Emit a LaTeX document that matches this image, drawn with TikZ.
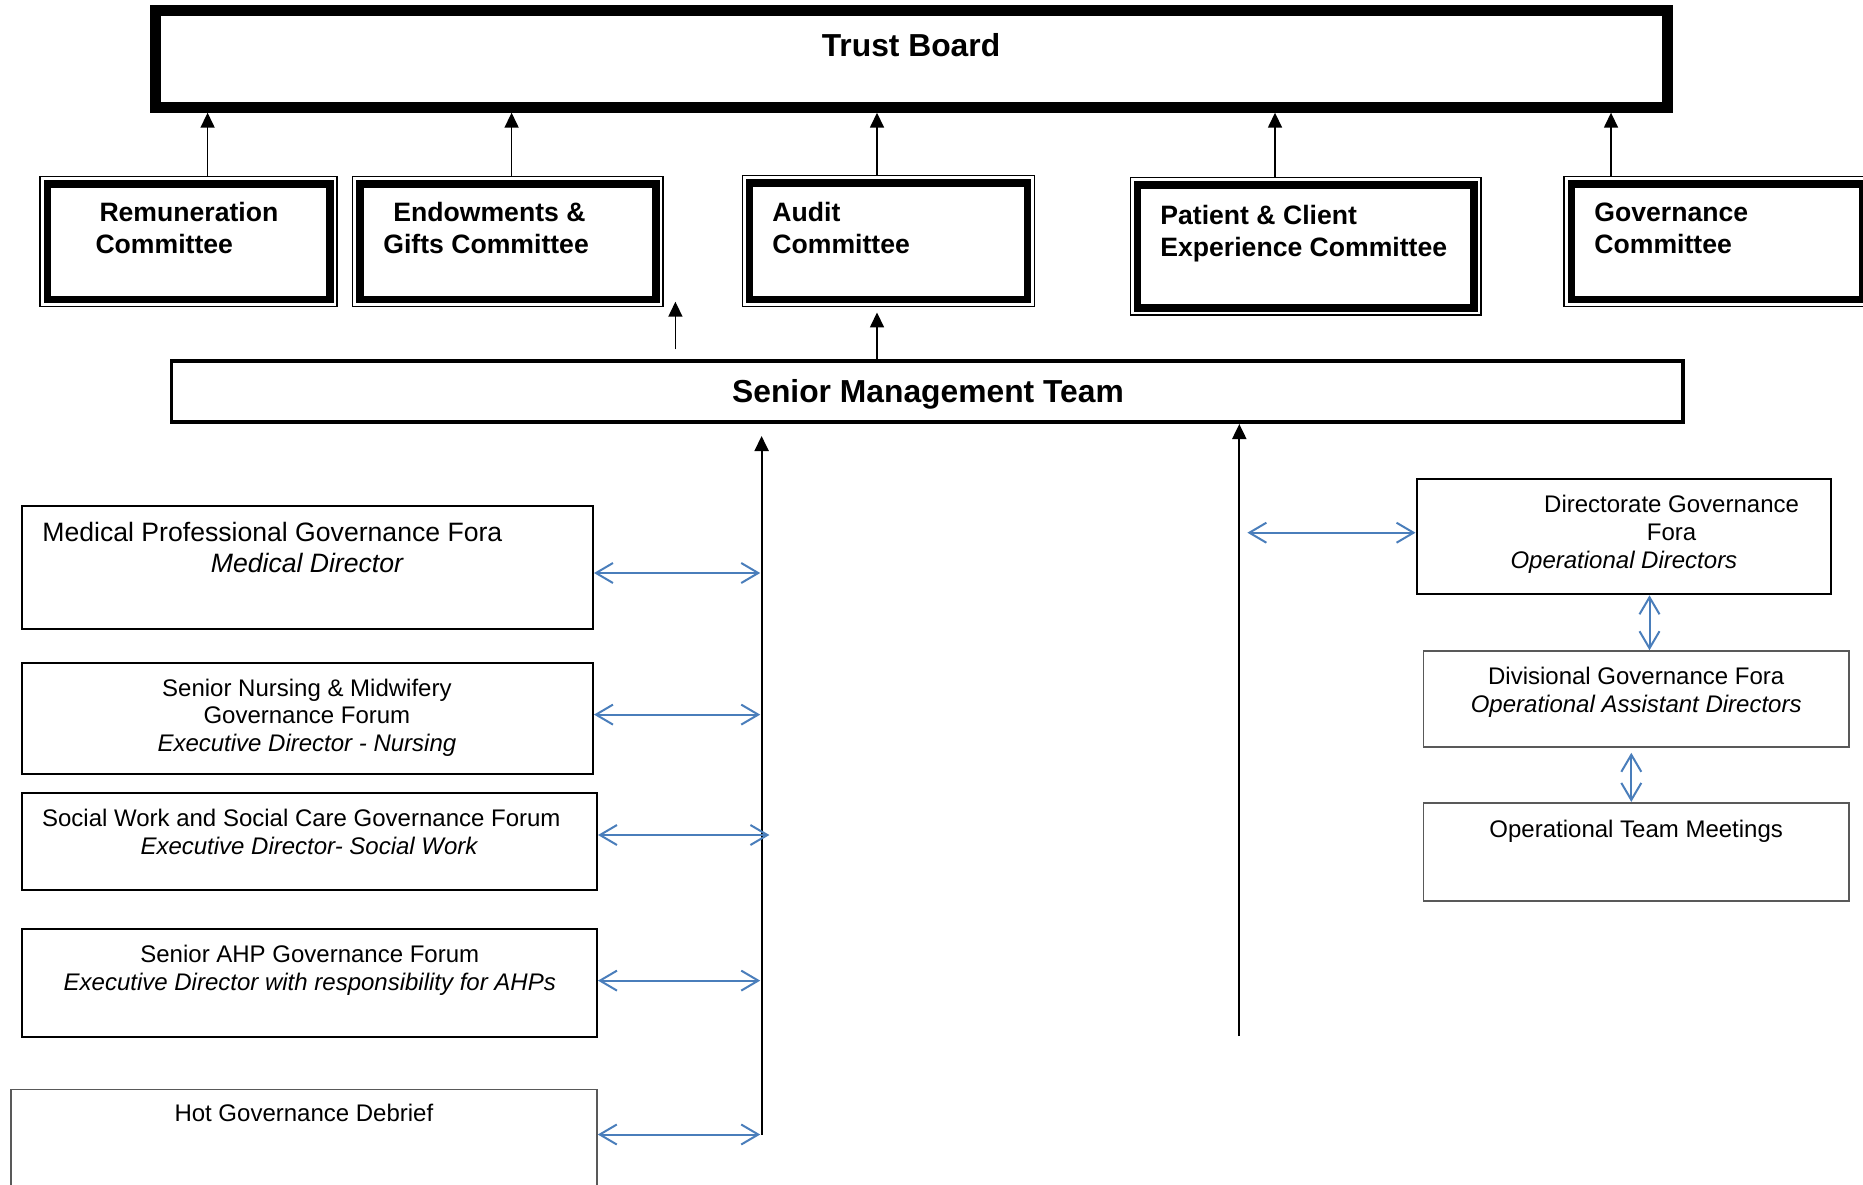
\documentclass[tikz,border=0pt]{standalone}
\usepackage{fontspec}
\setmainfont{Liberation Sans}
\usetikzlibrary{arrows.meta,fit}
\begin{document}
\begin{tikzpicture}[x=0.5pt,y=-0.5pt,
  boardbox/.style={draw, line width=5.5pt, inner sep=0pt},
  cttee/.style={draw, line width=0.75pt, inner sep=0pt},
  smtbox/.style={draw, line width=1.9pt, inner sep=0pt},
  forum/.style={draw, line width=1pt, inner sep=0pt},
  greyforum/.style={forum, draw=edgegray, line width=0.8pt},
  bigtxt/.style={inner sep=0pt, anchor=north, font=\fontsize{15.9pt}{18pt}\selectfont\bfseries},
  ctxt/.style={inner sep=0pt, anchor=north west, align=left, font=\fontsize{13.3pt}{16pt}\selectfont\bfseries},
  ftxt/.style={inner sep=0pt, anchor=north, align=center, font=\fontsize{12pt}{13.8pt}\selectfont},
  up/.style={-{Triangle[length=7.5pt,width=7pt]}, line width=0.8pt},
  link/.style={{Straight Barb[length=8.5pt,width=10pt]}-{Straight Barb[length=8.5pt,width=10pt]}, draw=linkblue, line width=1pt}]
\definecolor{linkblue}{HTML}{4A7EBB}
\definecolor{edgegray}{HTML}{595959}
\useasboundingbox (0,0) rectangle (1863,1184);

\node[boardbox, fit={(155.2,10.5) (1667.8,107.2)}] (board) {};
\node[bigtxt] (boardtxt) at (911,32.6) {Trust Board};

\node[cttee, fit={(40.2,176.7) (337,306.7)}] (rem) {};
\node[ctxt] (remtxt) at (95.1,202) {\hspace*{2pt}Remuneration\\Committee};
\node[cttee, fit={(352.7,176.7) (663,306.7)}] (endow) {};
\node[ctxt] (endowtxt) at (383,202) {\hspace*{5pt}Endowments \&\\Gifts Committee};
\node[cttee, fit={(742.3,175.7) (1034.6,306.7)}] (audit) {};
\node[ctxt] (audittxt) at (772,201.7) {Audit\\Committee};
\node[cttee, fit={(1130.3,177.7) (1481,315)}] (pcx) {};
\node[ctxt] (pcxtxt) at (1160,204.5) {Patient \& Client\\Experience Committee};
\node[cttee, fit={(1564.2,176.7) (1870,306.7)}] (gov) {};
\node[ctxt] (govtxt) at (1594,202.5) {Governance\\Committee};
\foreach \n in {rem,endow,audit,pcx,gov}
  \draw[line width=3.75pt] ([shift={(8,8)}]\n.north west) rectangle ([shift={(-8,-8)}]\n.south east);

\node[smtbox, fit={(171.5,361.2) (1683.3,422.1)}] (smt) {};
\node[bigtxt] (smttxt) at (928,379.3) {Senior Management Team};

\node[forum, fit={(22,506) (593,628.5)}] (med) {};
\node[ftxt, font=\fontsize{13.3pt}{15.45pt}\selectfont] (medtxt) at (307.4,521.7) {Medical Professional Governance Fora\hspace*{35pt}\\\textit{Medical Director}};
\node[forum, fit={(22,663.3) (593,773.5)}] (nurse) {};
\node[ftxt] (nursetxt) at (306.9,678.5) {Senior Nursing \& Midwifery\\Governance Forum\\\textit{Executive Director - Nursing}};
\node[forum, fit={(22,793.4) (597,890.3)}] (social) {};
\node[ftxt] (socialtxt) at (309.5,808.6) {Social Work and Social Care Governance Forum\hspace*{8.2pt}\\\textit{Executive Director- Social Work}};
\node[forum, fit={(22,928.8) (597,1036.6)}] (ahp) {};
\node[ftxt] (ahptxt) at (309.8,945) {Senior AHP Governance Forum\\\textit{Executive Director with responsibility for AHPs}};
\node[greyforum, fit={(10.7,1089.3) (597,1240)}] (hot) {};
\node[ftxt] (hottxt) at (303.9,1103.6) {Hot Governance Debrief};

\node[forum, fit={(1416.5,479) (1831.3,594.3)}] (dir) {};
\node[ftxt] (dirtxt) at (1623.9,495) {\hspace*{47.7pt}Directorate Governance\\\hspace*{47.7pt}Fora\\\textit{Operational Directors}};
\node[greyforum, fit={(1423.3,651) (1849,747)}] (div) {};
\node[ftxt] (divtxt) at (1636.2,666.7) {Divisional Governance Fora\\\textit{Operational Assistant Directors}};
\node[greyforum, fit={(1423.3,802.7) (1849,901)}] (opteam) {};
\node[ftxt] (opteamtxt) at (1636.2,819.3) {Operational Team Meetings};

\foreach \n/\x in {rem/207.6,endow/511.6,audit/877,pcx/1275,gov/1611}
  \draw[up] (\n.north -| \x,0) -- (board.south -| \x,0);
\draw[up, shorten >=2.5pt] (smt.north -| 877,0) -- (audit.south -| 877,0);
\coordinate (freetail) at (675.4,349.3);
\coordinate (freehead) at (675.4,301.7);
\draw[up] (freetail) -- (freehead);

\coordinate (ltop) at (761.6,436);
\coordinate (lbot) at (761.6,1134.5);
\draw[up, line width=1pt] (lbot) -- (ltop);
\coordinate (rbot) at (1239.3,1036);
\draw[up, line width=1pt] (rbot) -- (rbot |- smt.south);

\coordinate (jmed) at (760.2,573);
\coordinate (jnurse) at (760.2,714.6);
\coordinate (jsocial) at (769.4,835);
\coordinate (jahp) at (760.2,980.6);
\coordinate (jhot) at (760.2,1134.5);
\draw[link] (med.east |- jmed) -- (jmed);
\draw[link] (nurse.east |- jnurse) -- (jnurse);
\draw[link] (social.east |- jsocial) -- (jsocial);
\draw[link] (ahp.east |- jahp) -- (jahp);
\draw[link] (hot.east |- jhot) -- (jhot);

\coordinate (jdir) at (1247.4,532.7);
\draw[link] (jdir) -- (jdir -| dir.west);
\coordinate (jdd) at (1649.5,0);
\draw[link] (dir.south -| jdd) -- (div.north -| jdd);
\coordinate (jdo) at (1631.3,0);
\draw[link, shorten <=2.5pt] (div.south -| jdo) -- (opteam.north -| jdo);
\end{tikzpicture}
\end{document}
